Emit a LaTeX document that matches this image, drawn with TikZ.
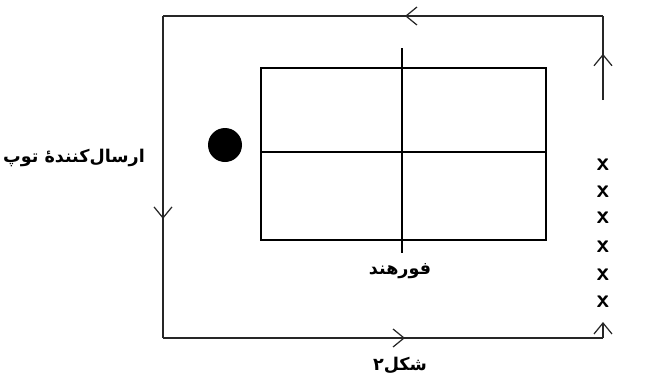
\documentclass[tikz,border=0pt]{standalone}
\usepackage{fontspec}
\newfontfamily\arabicfont[Script=Arabic]{DejaVu Sans}
\TeXXeTstate=1
\usetikzlibrary{arrows.meta,decorations.markings}

\tikzset{
  lane/.style={line width=0.9pt, black!85},
  midarrow/.style={postaction=decorate, decoration={markings,
      mark=at position #1 with {\arrow{Straight Barb[length=2.2mm,width=3.6mm,line width=0.7pt]}}}},
  court/.style={line width=1.1pt},
  cross/.style={font=\sffamily\bfseries\Large, inner sep=0pt},
  fatext/.style={font=\arabicfont\bfseries\fontsize{10}{12}\selectfont, inner sep=1pt},
}

\begin{document}
\begin{tikzpicture}[x=0.02cm,y=-0.02cm]
\useasboundingbox (0,0) rectangle (650,386);

% run around the court
\coordinate (rtop) at (603,100);
\coordinate (ne) at (603,16);
\coordinate (nw) at (163,16);
\coordinate (sw) at (163,338);
\coordinate (se) at (603,338);
\coordinate (rbot) at (603,322);

\draw[lane, midarrow=0.55] (rtop) -- (ne);
\draw[lane, midarrow=0.45] (ne) -- (nw);
\draw[lane, midarrow=0.63] (nw) -- (sw);
\draw[lane, midarrow=0.55] (sw) -- (se);
\draw[lane, -{Straight Barb[length=2.2mm,width=3.6mm,line width=0.7pt]}] (se) -- (rbot);

% table
\draw[court] (261,68) rectangle (546,240);
\draw[court] (261,152) -- (546,152);
\draw[court] (402,48) -- (402,253);

% ball
\fill (225,145) circle (17);

% waiting players
\foreach \y [count=\i] in {165,192,218,247,275,302}
  \node[cross] (p\i) at (603,\y) {x};

\node[fatext] (sender) at (74,158) {\beginR ارسال‌کنندهٔ توپ\endR};
\node[fatext] (forehand) at (400,271) {\beginR فورهند\endR};
\node[fatext] (caption) at (400,365) {\beginR شکل۲\endR};
\end{tikzpicture}
\end{document}
